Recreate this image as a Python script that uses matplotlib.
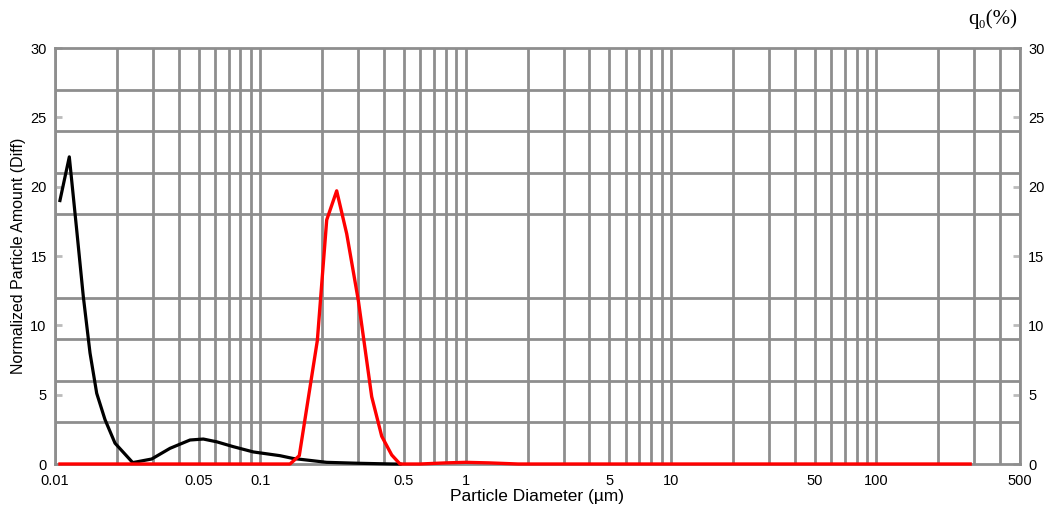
import matplotlib
matplotlib.use("Agg")
import matplotlib.pyplot as plt
from matplotlib.ticker import FixedLocator, LogLocator, MultipleLocator, NullFormatter, FuncFormatter

plt.rcParams['font.family'] = ['Liberation Sans', 'DejaVu Sans']

# black curve (sample 1)
black_d = [0.01057, 0.01174, 0.01275, 0.01373, 0.01481, 0.01596, 0.01752, 0.01960,
           0.02390, 0.02957, 0.03631, 0.04544, 0.05275, 0.06131, 0.07383, 0.09240,
           0.1246, 0.1442, 0.2104, 0.3055, 0.4424, 0.4786]
black_q = [19.0, 22.15, 16.9, 12.1, 8.0, 5.1, 3.2, 1.5,
           0.1, 0.36, 1.13, 1.73, 1.8, 1.6, 1.25, 0.87,
           0.6, 0.4, 0.12, 0.05, 0.0, 0.0]

# red curve (sample 2)
red_d = [0.01057, 0.1394, 0.1547, 0.1894, 0.2104, 0.2353, 0.2633, 0.2999,
         0.3485, 0.3899, 0.4362, 0.4786, 0.6, 0.8, 1.0, 1.3, 1.8, 286.0]
red_q = [0.0, 0.0, 0.6, 8.9, 17.6, 19.7, 16.6, 11.8,
         4.85, 2.0, 0.65, 0.0, 0.0, 0.08, 0.12, 0.08, 0.0, 0.0]

x_labels = [0.01, 0.05, 0.1, 0.5, 1, 5, 10, 50, 100, 500]
y_labels = [0, 5, 10, 15, 20, 25, 30]

fig = plt.figure(figsize=(10.46, 5.08), dpi=100)
ax = fig.add_axes([55/1046, 1-464/508, 965/1046, 416/508])

grid_c = '#8e8e8e'
ax.set_xscale('log')
ax.set_xlim(0.01, 500)
ax.set_ylim(0, 30)

ax.xaxis.set_major_locator(FixedLocator(x_labels))
ax.xaxis.set_major_formatter(FuncFormatter(lambda v, p: f"{v:g}"))
ax.xaxis.set_minor_locator(LogLocator(base=10, subs=range(1, 10), numticks=50))
ax.xaxis.set_minor_formatter(NullFormatter())
ax.yaxis.set_major_locator(FixedLocator(y_labels))
ax.yaxis.set_minor_locator(MultipleLocator(3))

ax.grid(axis='x', which='both', color=grid_c, lw=2.0)
ax.grid(axis='y', which='minor', color=grid_c, lw=2.0)
ax.set_axisbelow(True)

ax.tick_params(axis='x', which='both', length=0, labelsize=10.5, pad=7)
ax.tick_params(axis='y', which='major', direction='in', length=5, width=2,
               color='#bbbbbb', left=True, right=True, labelleft=True,
               labelright=True, labelsize=10.5, pad=6)
ax.tick_params(axis='y', which='minor', length=0)

for s in ax.spines.values():
    s.set_color(grid_c)
    s.set_linewidth(2)

ax.plot(black_d, black_q, color='black', lw=2.3, zorder=3, clip_on=False)
ax.plot(red_d, red_q, color='#ff0000', lw=2.4, zorder=4, clip_on=False)

ax.set_xlabel('Particle Diameter (µm)', fontsize=12.5, labelpad=1)
ax.set_ylabel('Normalized Particle Amount (Diff)', fontsize=11.5, labelpad=3)
fig.text(993/1046, 1-19/508, 'q\u2080(%)', ha='center', va='center',
         fontsize=15, family=['Liberation Serif', 'DejaVu Serif'])

fig.savefig('out.png', dpi=100)
